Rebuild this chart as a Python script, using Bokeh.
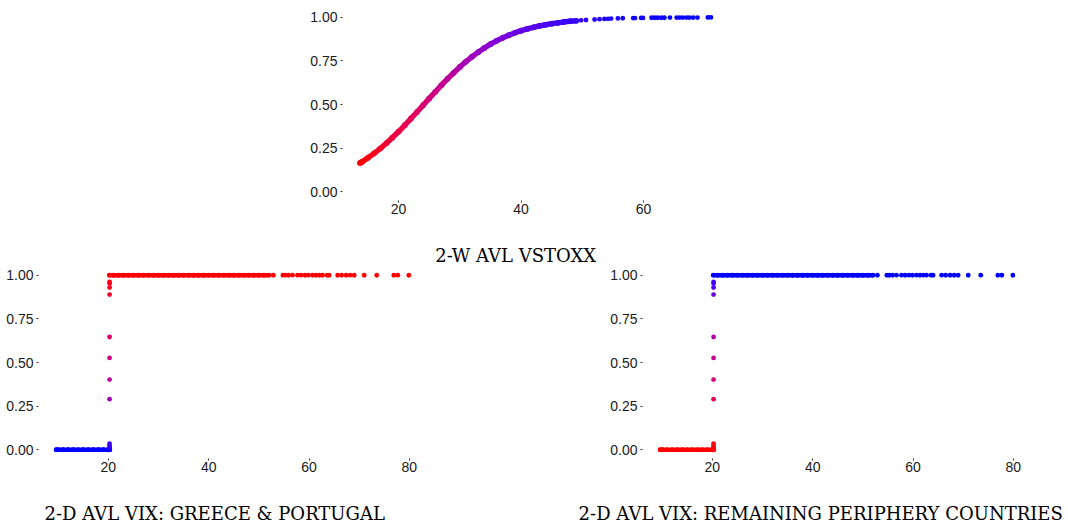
from bokeh.plotting import figure
from bokeh.layouts import column, row
from bokeh.models import FixedTicker, Range1d, Title
from bokeh.embed import file_html
from bokeh.resources import INLINE

# ---------------- data ----------------
# Top panel: 2-W AVL VSTOXX vs fitted probability
vstoxx_dense_x = [13.7, 14, 15, 16, 17, 18, 19, 20, 21, 22, 23, 24, 25, 26, 27, 28, 29, 30,
                  31, 32, 33, 34, 35, 36, 37, 38, 39, 40, 41, 42, 43, 44, 45, 46, 47, 48, 49]
vstoxx_dense_y = [0.165, 0.171, 0.195, 0.220, 0.248, 0.278, 0.311, 0.345, 0.381, 0.419, 0.457,
                  0.496, 0.535, 0.573, 0.611, 0.648, 0.682, 0.715, 0.746, 0.774, 0.800, 0.824,
                  0.846, 0.865, 0.882, 0.897, 0.911, 0.923, 0.933, 0.942, 0.950, 0.957, 0.963,
                  0.968, 0.973, 0.977, 0.980]
vstoxx_sparse_x = [49.8, 50.6, 52.0, 52.8, 53.6, 54.2, 54.7, 55.8, 56.6, 58.3, 58.6, 59.6, 59.9,
                   61.3, 61.8, 62.3, 62.9, 63.4, 64.3, 65.4, 65.9, 66.4, 67.0, 67.5, 68.1, 68.8,
                   70.5, 71.0]
vstoxx_sparse_y = [0.982, 0.984, 0.987, 0.989, 0.990, 0.991, 0.992, 0.993, 0.994, 0.995, 0.995,
                   0.996, 0.996, 0.997, 0.997, 0.997, 0.997, 0.997, 0.998, 0.998, 0.998, 0.998,
                   0.998, 0.998, 0.998, 0.998, 0.999, 0.999]

# Bottom panels: 2-D AVL VIX vs fitted probability (same values in both panels)
vix_low_x = [9.6, 10, 11, 12, 13, 14, 15, 16, 17, 18, 19, 20, 20.3]
vix_low_y = [0.0, 0.0, 0.0, 0.0, 0.0, 0.0, 0.0, 0.0, 0.0, 0.0, 0.0, 0.0, 0.0]
vix_step_x = [20.25, 20.25, 20.25, 20.25, 20.25, 20.25, 20.25, 20.25, 20.25, 20.25, 20.25, 20.25]
vix_step_y = [0.005, 0.012, 0.022, 0.035, 0.290, 0.402, 0.526, 0.646, 0.889, 0.929, 0.952, 0.962]
vix_high_x = [20.2, 21, 22, 23, 24, 25, 26, 27, 28, 29, 30, 31, 32, 33, 34, 35, 36, 37, 38, 39,
              40, 41, 42, 43, 44, 45, 46, 47, 48, 49, 50, 51, 52]
vix_high_y = [1.0] * len(vix_high_x)
vix_sparse_x = [52.9, 54.8, 55.3, 55.9, 56.7, 57.7, 58.4, 59.2, 59.9, 60.7, 61.4, 62.1, 62.7,
                63.6, 64.0, 65.7, 66.5, 67.4, 68.2, 69.0, 71.0, 73.5, 76.9, 77.7, 79.9]
vix_sparse_y = [1.0] * len(vix_sparse_x)

top_x_ticks = [20, 40, 60]
bottom_x_ticks = [20, 40, 60, 80]
y_ticks = [0.0, 0.25, 0.5, 0.75, 1.0]
y_tick_labels = ["0.00", "0.25", "0.50", "0.75", "1.00"]

title_top = "2-W AVL VSTOXX"
title_left = "2-D AVL VIX: GREECE & PORTUGAL"
title_right = "2-D AVL VIX: REMAINING PERIPHERY COUNTRIES"

# ---------------- colour helpers (CIELAB gradient, like ggplot) ----------------
WHITE = (0.95047, 1.0, 1.08883)


def _lin(c):
    return c / 12.92 if c <= 0.04045 else ((c + 0.055) / 1.055) ** 2.4


def _gam(c):
    c = 12.92 * c if c <= 0.0031308 else 1.055 * c ** (1 / 2.4) - 0.055
    return min(1.0, max(0.0, c))


def rgb_to_lab(rgb):
    r, g, b = [_lin(v / 255.0) for v in rgb]
    X = 0.4124564 * r + 0.3575761 * g + 0.1804375 * b
    Y = 0.2126729 * r + 0.7151522 * g + 0.0721750 * b
    Z = 0.0193339 * r + 0.1191920 * g + 0.9503041 * b

    def f(t):
        return t ** (1 / 3) if t > 216 / 24389 else (24389 / 27 * t + 16) / 116
    fx, fy, fz = f(X / WHITE[0]), f(Y / WHITE[1]), f(Z / WHITE[2])
    return (116 * fy - 16, 500 * (fx - fy), 200 * (fy - fz))


def lab_to_hex(lab):
    L, a, b = lab
    fy = (L + 16) / 116
    fx = fy + a / 500
    fz = fy - b / 200

    def finv(f):
        return f ** 3 if f ** 3 > 216 / 24389 else (116 * f - 16) / (24389 / 27)
    X, Y, Z = finv(fx) * WHITE[0], finv(fy) * WHITE[1], finv(fz) * WHITE[2]
    r = 3.2404542 * X - 1.5371385 * Y - 0.4985314 * Z
    g = -0.9692660 * X + 1.8760108 * Y + 0.0415560 * Z
    bb = 0.0556434 * X - 0.2040259 * Y + 1.0572252 * Z
    return "#%02x%02x%02x" % tuple(int(round(_gam(c) * 255)) for c in (r, g, bb))


RED = rgb_to_lab((255, 0, 0))
BLUE = rgb_to_lab((0, 0, 255))


def gradient(values, lo, hi, low_col, high_col):
    out = []
    for v in values:
        t = 0.0 if hi == lo else (v - lo) / (hi - lo)
        t = min(1.0, max(0.0, t))
        out.append(lab_to_hex(tuple(low_col[i] + t * (high_col[i] - low_col[i]) for i in range(3))))
    return out


# ---------------- plotting helpers ----------------
TITLE_FONT = "DejaVu Serif"
TITLE_SIZE = "18px"


def make_fig(width, height, left, right, top, bottom, xs_all, xticks):
    xmin, xmax = min(xs_all), max(xs_all)
    pad = 0.05 * (xmax - xmin)
    p = figure(width=width, height=height, output_backend="svg", toolbar_location=None,
               x_range=Range1d(xmin - pad, xmax + pad), y_range=Range1d(-0.05, 1.05),
               min_border_left=left, min_border_right=right,
               min_border_top=top, min_border_bottom=bottom,
               background_fill_color="white", border_fill_color="white")
    p.outline_line_color = None
    p.grid.visible = False
    for ax in (p.xaxis[0], p.yaxis[0]):
        ax.axis_line_color = None
        ax.major_tick_line_color = "#333333"
        ax.major_tick_line_width = 1
        ax.major_tick_out = 2
        ax.major_tick_in = 0
        ax.minor_tick_line_color = None
        ax.major_label_text_font = "Liberation Sans"
        ax.major_label_text_font_size = "14px"
        ax.major_label_text_color = "#1a1a1a"
    p.xaxis[0].ticker = FixedTicker(ticks=xticks)
    p.xaxis[0].major_label_standoff = 1
    p.yaxis[0].ticker = FixedTicker(ticks=y_ticks)
    p.yaxis[0].major_label_overrides = {t: s for t, s in zip(y_ticks, y_tick_labels)}
    p.yaxis[0].major_label_standoff = 3
    return p


def add_title(p, text, offset, pad_top):
    # padding given as (left, right, top, bottom)
    p.add_layout(Title(text=text, align="left", offset=offset, standoff=0,
                       padding=(0, 0, pad_top, 0),
                       text_font=TITLE_FONT, text_font_size=TITLE_SIZE,
                       text_font_style="normal", text_color="black"), "below")


def draw_dense(p, xs, ys, cols, width):
    x0, y0, x1, y1, sc = [], [], [], [], []
    for i in range(len(xs) - 1):
        x0.append(xs[i]); y0.append(ys[i]); x1.append(xs[i + 1]); y1.append(ys[i + 1])
        sc.append(cols[i])
    p.segment(x0=x0, y0=y0, x1=x1, y1=y1, line_color=sc, line_width=width, line_cap="round")
    p.scatter(x=xs, y=ys, size=width + 0.3, fill_color=cols, line_color=None)


def draw_points(p, xs, ys, cols):
    p.scatter(x=xs, y=ys, size=4.8, fill_color=cols, line_color=None)


# ---------------- top panel ----------------
top_all_y = vstoxx_dense_y + vstoxx_sparse_y
ylo, yhi = min(top_all_y), max(top_all_y)
p_top = make_fig(1068, 266, 342, 340, 8, 66, vstoxx_dense_x + vstoxx_sparse_x, top_x_ticks)
draw_dense(p_top, vstoxx_dense_x, vstoxx_dense_y,
           gradient(vstoxx_dense_y, ylo, yhi, RED, BLUE), 5.4)
draw_points(p_top, vstoxx_sparse_x, vstoxx_sparse_y,
            gradient(vstoxx_sparse_y, ylo, yhi, RED, BLUE))
add_title(p_top, title_top, 92.7, 26)

# ---------------- bottom panels ----------------
vix_all_x = vix_low_x + vix_step_x + vix_high_x + vix_sparse_x
vix_all_y = vix_low_y + vix_step_y + vix_high_y + vix_sparse_y
vlo, vhi = min(vix_all_y), max(vix_all_y)

panels = []
for (lcol, hcol, lb, rb, ttl, off) in [(BLUE, RED, 38, 108, title_left, 6.0),
                                       (RED, BLUE, 108, 38, title_right, -63.9)]:
    p = make_fig(534, 257, lb, rb, 0, 65, vix_all_x, bottom_x_ticks)
    draw_dense(p, vix_low_x, vix_low_y, gradient(vix_low_y, vlo, vhi, lcol, hcol), 4.5)
    draw_points(p, vix_step_x, vix_step_y, gradient(vix_step_y, vlo, vhi, lcol, hcol))
    draw_dense(p, vix_high_x, vix_high_y, gradient(vix_high_y, vlo, vhi, lcol, hcol), 4.5)
    draw_points(p, vix_sparse_x, vix_sparse_y, gradient(vix_sparse_y, vlo, vhi, lcol, hcol))
    add_title(p, ttl, off, 26)
    panels.append(p)

layout = column(p_top, row(panels[0], panels[1], spacing=0), spacing=0)

open("out.html", "w").write(file_html(layout, INLINE))
